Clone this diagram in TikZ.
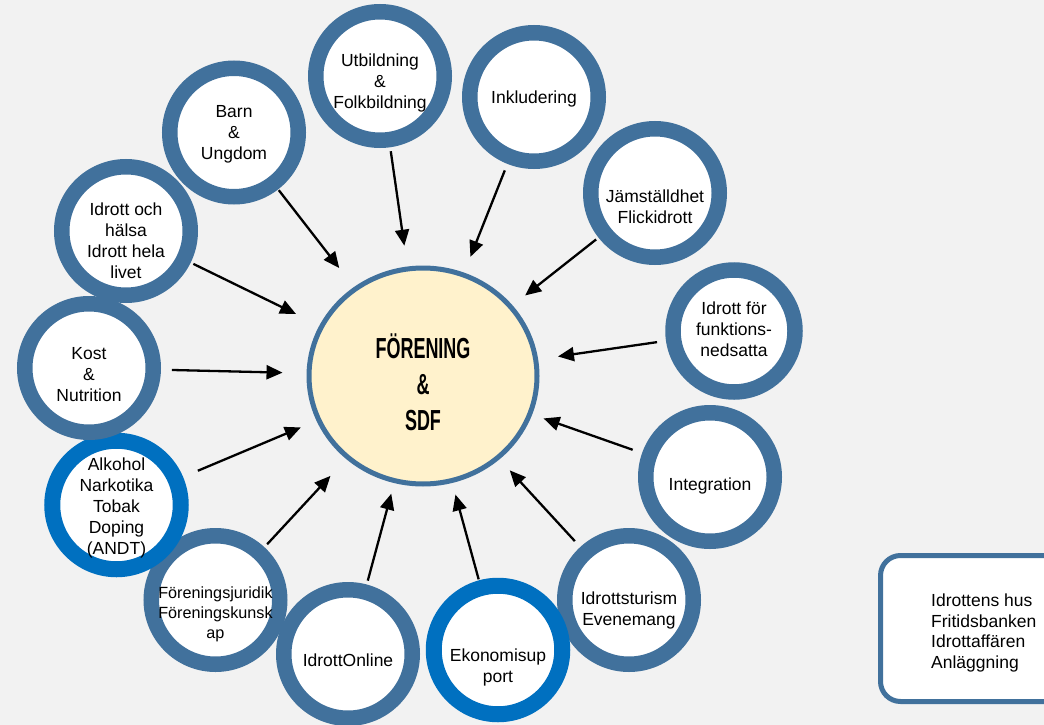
\documentclass[tikz,border=0pt]{standalone}
\usepackage{fontspec}
\setmainfont{Liberation Sans}
\newfontfamily\condfont[FakeStretch=0.62]{Liberation Sans}
\usetikzlibrary{shapes.geometric,arrows.meta}
\definecolor{ringblue}{HTML}{41719C}
\definecolor{brightblue}{HTML}{0070C0}
\definecolor{paper}{HTML}{F2F2F2}
\definecolor{cream}{HTML}{FFF2CC}
\begin{document}
\begin{tikzpicture}[x=1pt, y=-1pt,
    ring/.style={circle, draw=ringblue, fill=white, line width=15.5pt, minimum size=128.5pt, inner sep=0pt},
    hot/.style={ring, draw=brightblue, line width=16pt},
    txt/.style={align=center, font=\fontsize{17.5}{21}\selectfont},
    feed/.style={-{Triangle[length=16pt,width=14pt]}, line width=2.3pt}]
    \useasboundingbox (0,0) rectangle (1044,725);
    \fill[paper] (0,0) rectangle (1044,725);

    \node[ellipse, draw=ringblue, fill=cream, line width=5pt, minimum width=228pt, minimum height=216pt, inner sep=0pt,
        label={[align=center, font=\condfont\bfseries\fontsize{29}{36}\selectfont, yshift=-6pt]center:{FÖRENING\\\&\\SDF}}] (club) at (423,376) {};

    \node[ring, label={[txt, yshift=-2pt]center:{Barn\\\&\\Ungdom}}] (barn) at (234,132.5) {};
    \node[ring, label={[txt, yshift=-7pt]center:{Utbildning\\\&\\Folkbildning}}] (utb) at (380,76) {};
    \node[ring, label={[txt, yshift=-2pt]center:{Inkludering}}] (inkl) at (534,97) {};
    \node[ring, label={[txt, yshift=-14pt]center:{Jämställdhet\\Flickidrott}}] (jam) at (655,193) {};
    \node[ring, minimum size=122pt, label={[txt, yshift=2pt]center:{Idrott för\\funktions-\\nedsatta}}] (funk) at (734,331) {};
    \node[ring, label={[txt, yshift=-9pt]center:{Integration}}] (integ) at (710,477) {};
    \node[ring, label={[txt, yshift=-10pt]center:{Idrottsturism\\Evenemang}}] (turism) at (629,600) {};
    \node[hot, label={[txt, yshift=-17pt]center:{Ekonomisup\\port}}] (ekon) at (498,650) {};
    \node[ring, label={[txt, yshift=-6pt]center:{IdrottOnline}}] (online) at (348,654) {};
    \node[ring, label={[txt, yshift=-14pt, font=\fontsize{16.2}{20}\selectfont]center:{Föreningsjuridik\\Föreningskunsk\\ap}}] (juridik) at (215.5,600) {};
    \node[hot, label={[txt, yshift=-3pt]center:{Alkohol\\Narkotika\\Tobak\\Doping\\(ANDT)}}] (andt) at (116.5,505) {};
    \node[ring, label={[txt, yshift=-7pt]center:{Kost\\\&\\Nutrition}}] (kost) at (89,368) {};
    \node[ring, label={[txt, yshift=-10pt]center:{Idrott och\\hälsa\\Idrott hela\\livet}}] (halsa) at (126,231) {};

    \foreach \src/\gapa/\gapb in {barn/1/24, utb/4/21, inkl/7/17, jam/3/16, funk/9/20, integ/10/12, turism/8/15,
        ekon/1/12, online/4/11, juridik/4/23, andt/16/17, kost/11/24, halsa/3/26}
        \draw[feed, shorten <=\gapa pt, shorten >=\gapb pt] (\src) -- (club);

    \draw[ringblue, line width=5pt, fill=white, rounded corners=20pt] (880.5,555.5) rectangle (1065,701.5);
    \node (stod) [align=left, anchor=west, inner sep=0pt, font=\fontsize{17.5}{20.5}\selectfont] at (931,633)
        {Idrottens hus\\Fritidsbanken\\Idrottaffären\\Anläggning};
\end{tikzpicture}
\end{document}
